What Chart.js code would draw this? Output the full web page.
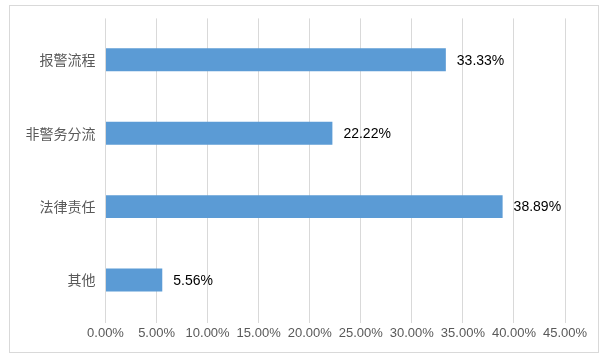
<!DOCTYPE html>
<html><head><meta charset="utf-8">
<script src="https://cdn.jsdelivr.net/npm/chart.js@4/dist/chart.umd.min.js"></script>
<style>html,body{margin:0;padding:0;background:#fff}#wrap{position:absolute;left:0;top:0;width:607px;height:360px}</style>
</head><body><div id="wrap"><canvas id="c" width="607" height="360"></canvas></div>
<script>
const categories = ['报警流程', '非警务分流', '法律责任', '其他'];
const values = [33.33, 22.22, 38.89, 5.56];
const tickMax = 45;
const tickStep = 5;

const borderPlugin = {
  id: 'frame',
  beforeDraw(chart) {
    const ctx = chart.ctx;
    ctx.save();
    ctx.fillStyle = '#fff';
    ctx.fillRect(0, 0, chart.width, chart.height);
    ctx.strokeStyle = '#d9d9d9';
    ctx.lineWidth = 1;
    ctx.strokeRect(9.5, 5.5, 589, 347);
    ctx.restore();
  }
};
const labelPlugin = {
  id: 'vlabels',
  afterDatasetsDraw(chart) {
    const ctx = chart.ctx;
    const meta = chart.getDatasetMeta(0);
    ctx.save();
    ctx.font = '14px "Liberation Sans", "Noto Sans", sans-serif';
    ctx.fillStyle = '#000';
    ctx.textAlign = 'left';
    ctx.textBaseline = 'middle';
    meta.data.forEach((bar, i) => {
      ctx.fillText(values[i].toFixed(2) + '%', bar.x + 11, bar.y + 1);
    });
    ctx.restore();
  }
};

new Chart(document.getElementById('c'), {
  type: 'bar',
  data: {
    labels: categories,
    datasets: [{
      data: values,
      backgroundColor: '#5b9bd5',
      borderWidth: 0,
      barPercentage: 0.313,
      categoryPercentage: 1.0
    }]
  },
  options: {
    indexAxis: 'y',
    responsive: false,
    animation: false,
    devicePixelRatio: 1,
    layout: { padding: { left: 10, right: 42, top: 18, bottom: 13 } },
    plugins: { legend: { display: false }, tooltip: { enabled: false } },
    scales: {
      x: {
        min: 0, max: tickMax,
        ticks: {
          stepSize: tickStep,
          padding: 3,
          color: '#595959',
          font: { family: '"Liberation Sans", "Noto Sans", sans-serif', size: 13 },
          callback: v => v.toFixed(2) + '%'
        },
        grid: { color: '#d9d9d9', drawTicks: false },
        border: { display: false },
        afterFit(s) { s.height = 24; }
      },
      y: {
        ticks: {
          padding: 10,
          color: '#595959',
          font: { family: '"Noto Sans CJK SC", sans-serif', size: 14 }
        },
        grid: { display: false, drawTicks: false },
        border: { display: false },
        afterBuildTicks(s) { s._startValue = -0.5646; s._valueRange = 4.15; },
        afterFit(s) { s.width = 95.5; }
      }
    }
  },
  plugins: [borderPlugin, labelPlugin]
});
</script></body></html>
